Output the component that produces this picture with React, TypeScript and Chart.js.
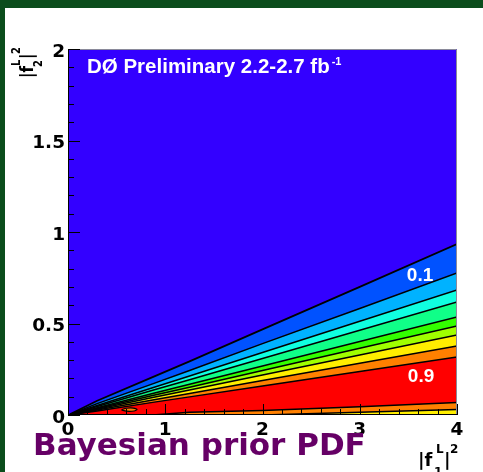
import React, { useEffect, useRef } from "react";
import { Chart, registerables } from "chart.js";

Chart.register(...registerables);

// x positions shared by all contour boundaries (|f1L|^2)
const xPts = [0.02, 0.3, 0.87, 1.25, 2, 3, 4];
// contour boundaries (|f2L|^2), top to bottom
const contour0 = [0.004, 0.078, 0.207, 0.293, 0.468, 0.7, 0.934];
const contour1 = [0.003, 0.062, 0.17, 0.243, 0.39, 0.582, 0.776];
const contour2 = [0.003, 0.052, 0.149, 0.213, 0.342, 0.512, 0.683];
const contour3 = [0.002, 0.046, 0.135, 0.193, 0.309, 0.463, 0.617];
const contour4 = [0.002, 0.04, 0.117, 0.168, 0.268, 0.402, 0.536];
const contour5 = [0.002, 0.035, 0.106, 0.152, 0.243, 0.365, 0.486];
const contour6 = [0.002, 0.031, 0.096, 0.137, 0.219, 0.328, 0.437];
const contour7 = [0.001, 0.027, 0.082, 0.118, 0.189, 0.283, 0.377];
const contour8 = [0.001, 0.022, 0.069, 0.099, 0.159, 0.238, 0.317];
const contour9 = [0, 0, 0, 0.015, 0.025, 0.045, 0.068];
const contour10 = [0, 0, 0, 0, 0, 0.015, 0.03];
const contours = [contour0, contour1, contour2, contour3, contour4, contour5, contour6, contour7, contour8, contour9, contour10];
// fill colour of the band just below each boundary
const bandColors = ["#0052ff", "#00b2ff", "#10ffe0", "#10ff88", "#33ff00", "#a0ff00", "#ffee00", "#ff8000", "#ff0000", "#ff8000", "#ffee00"];
const backgroundBlue = "#3300ff";

// small island near the origin
const islandX = [0.55, 0.6, 0.67, 0.71, 0.68, 0.6, 0.55];
const islandY = [0.028, 0.037, 0.038, 0.03, 0.022, 0.021, 0.028];

const xMajorTicks = [0, 1, 2, 3, 4];
const yMajorTicks = [0, 0.5, 1, 1.5, 2];
const xMinorStep = 0.2;
const yMinorStep = 0.1;

const bandLabels = [
  { text: "0.1", x: 3.62, y: 0.76 },
  { text: "0.9", x: 3.63, y: 0.208 },
];

const tickFont = { family: "'DejaVu Sans', sans-serif", weight: "bold" as const, size: 18.5 };

const framePlugin = {
  id: "frame",
  beforeDraw(chart: any) {
    const { ctx, chartArea: a } = chart;
    ctx.save();
    ctx.fillStyle = backgroundBlue;
    ctx.fillRect(a.left, a.top, a.right - a.left, a.bottom - a.top);
    ctx.restore();
  },
  afterDatasetsDraw(chart: any) {
    const { ctx, chartArea: a, scales } = chart;
    const xs = scales.x;
    const ys = scales.y;
    ctx.save();
    // frame
    ctx.strokeStyle = "#8a8a9a";
    ctx.lineWidth = 1;
    ctx.beginPath();
    ctx.moveTo(a.left, a.top + 0.5);
    ctx.lineTo(a.right - 0.5, a.top + 0.5);
    ctx.lineTo(a.right - 0.5, a.bottom);
    ctx.stroke();
    ctx.strokeStyle = "#000";
    ctx.beginPath();
    ctx.moveTo(a.left + 0.5, a.top);
    ctx.lineTo(a.left + 0.5, a.bottom - 0.5);
    ctx.lineTo(a.right, a.bottom - 0.5);
    ctx.stroke();
    // x ticks (inward)
    ctx.beginPath();
    const nx = Math.round((xs.max - xs.min) / xMinorStep);
    for (let i = 0; i <= nx; i++) {
      const v = xs.min + i * xMinorStep;
      const major = xMajorTicks.some((t) => Math.abs(t - v) < 1e-6);
      const px = Math.round(xs.getPixelForValue(v)) + 0.5;
      ctx.moveTo(px, a.bottom);
      ctx.lineTo(px, a.bottom - (major ? 11 : 6));
    }
    const ny = Math.round((ys.max - ys.min) / yMinorStep);
    for (let i = 0; i <= ny; i++) {
      const v = ys.min + i * yMinorStep;
      const major = yMajorTicks.some((t) => Math.abs(t - v) < 1e-6);
      const py = Math.round(ys.getPixelForValue(v)) + 0.5;
      ctx.moveTo(a.left, py);
      ctx.lineTo(a.left + (major ? 12 : 6), py);
    }
    ctx.stroke();
    // band labels
    ctx.fillStyle = "#fff";
    ctx.font = "bold 19px 'Liberation Sans', Arial, sans-serif";
    ctx.textAlign = "center";
    ctx.textBaseline = "middle";
    for (const l of bandLabels) {
      ctx.fillText(l.text, xs.getPixelForValue(l.x), ys.getPixelForValue(l.y));
    }
    ctx.restore();
  },
  afterDraw(chart: any) {
    const { ctx } = chart;
    const big = "bold 18px 'DejaVu Sans', sans-serif";
    const small = "bold 12px 'DejaVu Sans', sans-serif";
    ctx.save();
    ctx.fillStyle = "#000";
    ctx.textBaseline = "alphabetic";
    ctx.textAlign = "left";
    // x-axis title |f^L_1|^2
    ctx.font = big;
    ctx.fillText("|f", 418, 466);
    ctx.font = small;
    ctx.fillText("L", 436, 453);
    ctx.fillText("1", 434, 476);
    ctx.font = big;
    ctx.fillText("|", 444, 466);
    ctx.font = small;
    ctx.fillText("2", 450, 453);
    // y-axis title |f^L_2|^2 (rotated)
    ctx.translate(33, 78);
    ctx.rotate(-Math.PI / 2);
    ctx.scale(1, 1.15);
    ctx.font = "bold 15px 'DejaVu Sans', sans-serif";
    ctx.fillText("|f", 0, 0);
    ctx.font = "bold 10px 'DejaVu Sans', sans-serif";
    ctx.fillText("L", 12, -11);
    ctx.fillText("2", 11, 8);
    ctx.font = "bold 15px 'DejaVu Sans', sans-serif";
    ctx.fillText("|", 19, 0);
    ctx.font = "bold 10px 'DejaVu Sans', sans-serif";
    ctx.fillText("2", 24, -11);
    ctx.restore();
  },
};

export default function App() {
  const ref = useRef<HTMLCanvasElement>(null);

  useEffect(() => {
    const canvas = ref.current;
    if (!canvas) return;
    const datasets: any[] = [];
    datasets.push({
      data: islandX.map((x, i) => ({ x, y: islandY[i] })),
      borderColor: "#000",
      borderWidth: 1.2,
      backgroundColor: "#ff8000",
      fill: "shape",
      pointRadius: 0,
      tension: 0.3,
    });
    contours.forEach((vals, i) => {
      datasets.push({
        data: xPts.map((x, j) => ({ x, y: vals[j] })),
        borderColor: "#000",
        borderWidth: i === 0 ? 1.8 : 1.5,
        backgroundColor: bandColors[i],
        fill: i === contours.length - 1 ? "origin" : "+1",
        pointRadius: 0,
        tension: 0,
      });
    });

    const chart = new Chart(canvas, {
      type: "line",
      data: { datasets },
      options: {
        animation: false,
        responsive: false,
        events: [],
        layout: { padding: { top: 49, right: 26, left: 0, bottom: 0 } },
        plugins: {
          legend: { display: false },
          tooltip: { enabled: false },
          filler: { drawTime: "beforeDatasetsDraw" },
        } as any,
        scales: {
          x: {
            type: "linear",
            min: 0,
            max: 4,
            afterFit: (s: any) => {
              s.height = 57;
            },
            grid: { display: false, drawTicks: false },
            border: { display: false },
            ticks: {
              stepSize: 1,
              font: tickFont,
              color: "#000",
              padding: 4,
              maxRotation: 0,
              autoSkip: false,
              callback: (v: any) => String(v),
            },
          },
          y: {
            type: "linear",
            min: 0,
            max: 2,
            afterFit: (s: any) => {
              s.width = 68;
            },
            grid: { display: false, drawTicks: false },
            border: { display: false },
            ticks: {
              stepSize: 0.5,
              font: tickFont,
              color: "#000",
              padding: 3,
              labelOffset: 3,
              autoSkip: false,
              callback: (v: any) => String(v),
            },
          },
        },
      },
      plugins: [framePlugin],
    });
    return () => chart.destroy();
  }, []);

  return (
    <div
      style={{
        position: "fixed",
        left: 0,
        top: 0,
        width: 483,
        height: 472,
        background: "#fff",
        overflow: "hidden",
      }}
    >
      <canvas ref={ref} width={483} height={472} style={{ position: "absolute", left: 0, top: 0 }} />
      <div style={{ position: "absolute", left: 0, top: 0, width: 483, height: 8, background: "#0b4d1c" }} />
      <div style={{ position: "absolute", left: 0, top: 0, width: 5, height: 472, background: "#0b4d1c" }} />
      <div
        style={{
          position: "absolute",
          left: 87,
          top: 55.6,
          font: "bold 20.5px 'Liberation Sans', Arial, sans-serif",
          lineHeight: "20.5px",
          color: "#fff",
          whiteSpace: "nowrap",
        }}
      >
        DØ Preliminary 2.2-2.7 fb
        <span style={{ fontSize: 11, position: "relative", top: -8, marginLeft: 2 }}>-1</span>
      </div>
      <div
        style={{
          position: "absolute",
          left: 33,
          top: 428.8,
          font: "bold 31px 'DejaVu Sans', sans-serif",
          lineHeight: "31px",
          color: "#660066",
          whiteSpace: "nowrap",
        }}
      >
        Bayesian prior PDF
      </div>
    </div>
  );
}
